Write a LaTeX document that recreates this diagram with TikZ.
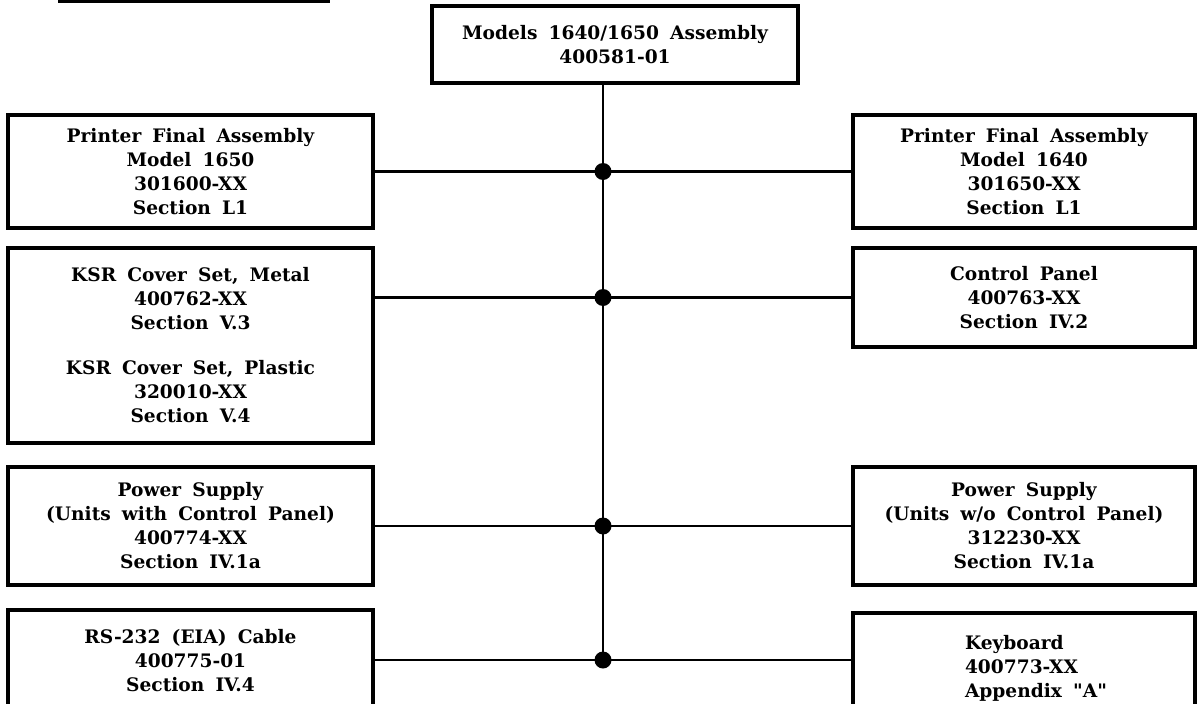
\documentclass[tikz,border=0pt]{standalone}
\usepackage{fontspec}
\setmainfont{DejaVu Serif}[Ligatures=TeXOff]
\newcommand\myboxfont{\bfseries\fontsize{18.6}{24}\selectfont}
\newcommand\mywidesp{\spaceskip=0.6em plus 0.1em\relax}
\begin{document}
\begin{tikzpicture}[x=1pt,y=-1pt,
  box/.style={draw, line width=3.2pt, align=center, inner sep=0pt,
    font=\myboxfont, execute at begin node=\mywidesp},
  wire/.style={line width=2.2pt},
  dot/.style={circle, fill, inner sep=0pt, minimum size=17pt}]
\clip (0,0) rectangle (1197,704);
% partial box edge at the top left
\draw[line width=3pt] (58,1.5) -- (330,1.5);
% boxes
\node[box, minimum width=366pt, minimum height=77pt] (top) at (615,44.5)
  {Models 1640/1650 Assembly\\400581-01};
\node[box, minimum width=365pt, minimum height=113pt] (L1) at (190.5,171.5)
  {Printer Final Assembly\\Model 1650\\301600-XX\\Section L1};
\node[box, minimum width=365pt, minimum height=195pt] (L2) at (190.5,345.5)
  {KSR Cover Set, Metal\\400762-XX\\Section V.3\\[21pt]KSR Cover Set, Plastic\\320010-XX\\Section V.4};
\node[box, minimum width=365pt, minimum height=118pt] (L3) at (190.5,526)
  {Power Supply\\(Units with Control Panel)\\400774-XX\\Section IV.1a};
\node[box, minimum width=365pt, minimum height=102pt] (L4) at (190.5,661)
  {RS-232 (EIA) Cable\\400775-01\\Section IV.4};
\node[box, minimum width=342pt, minimum height=113pt] (R1) at (1024,171.5)
  {Printer Final Assembly\\Model 1640\\301650-XX\\Section L1};
\node[box, minimum width=342pt, minimum height=99pt] (R2) at (1024,297.5)
  {Control Panel\\400763-XX\\Section IV.2};
\node[box, minimum width=342pt, minimum height=118pt] (R3) at (1024,526)
  {Power Supply\\(Units w/o Control Panel)\\312230-XX\\Section IV.1a};
\node[box, align=left, minimum width=342pt, minimum height=110pt] (R4) at (1024,668)
  {\hspace*{24pt}Keyboard\\\hspace*{24pt}400773-XX\\\hspace*{24pt}Appendix "A"};
% junctions
\node[dot] (d1) at (603,171.5) {};
\node[dot] (d2) at (603,297.5) {};
\node[dot] (d3) at (603,526) {};
\node[dot] (d4) at (603,660) {};
% connectors
\draw[wire] (top.south -| d1) -- (d4.center);
\draw[wire] (L1.east) -- (d1.center) -- (R1.west);
\draw[wire] (d2 -| L2.east) -- (d2.center) -- (R2.west);
\draw[wire] (L3.east) -- (d3.center) -- (R3.west);
\draw[wire] (d4 -| L4.east) -- (d4.center) -- (d4 -| R4.west);
\end{tikzpicture}
\end{document}
